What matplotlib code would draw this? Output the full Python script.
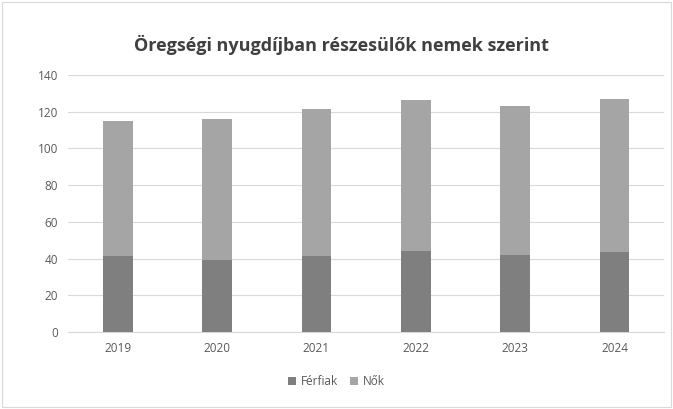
import matplotlib
matplotlib.use("Agg")
import matplotlib.pyplot as plt
import numpy as np

# adatok
evek = ["2019", "2020", "2021", "2022", "2023", "2024"]
ferfiak = [41.5, 39.5, 41.5, 44.0, 42.0, 43.5]
osszes = [115.0, 116.0, 121.5, 126.5, 123.0, 127.0]
nok = [o - f for o, f in zip(osszes, ferfiak)]

plt.rcParams['font.family'] = ['Open Sans', 'DejaVu Sans']

fig = plt.figure(figsize=(6.73, 4.09), dpi=100)
ax = fig.add_axes([0.101, 0.188, 0.886, 0.629])

x = np.arange(len(evek))
w = 0.3
ax.bar(x, ferfiak, w, color="#7f7f7f", label="Férfiak", zorder=3)
ax.bar(x, nok, w, bottom=ferfiak, color="#a5a5a5", label="Nők", zorder=3)

ax.set_ylim(0, 140)
ax.set_yticks(range(0, 141, 20))
ax.set_xlim(-0.5, len(evek) - 0.5)
ax.set_xticks(x)
ax.set_xticklabels(evek)
ax.yaxis.grid(True, color="#d9d9d9", linewidth=0.8, zorder=0)
for s in ax.spines.values():
    s.set_visible(False)
ax.spines['bottom'].set_visible(True)
ax.spines['bottom'].set_color("#d9d9d9")
ax.tick_params(axis='both', length=0, labelsize=8.5, colors="#595959", pad=7)

fig.suptitle("Öregségi nyugdíjban részesülők nemek szerint", x=0.508, y=0.915,
             fontsize=13, fontweight='bold', color="#404040")

fig.legend(loc='lower center', bbox_to_anchor=(0.5, 0.025), ncol=2, frameon=False,
           fontsize=8.5, labelcolor="#595959", handlelength=0.7, handleheight=0.7,
           columnspacing=1.0, handletextpad=0.4)

fig.patches.append(plt.Rectangle((0.003, 0.005), 0.994, 0.99, transform=fig.transFigure,
                                 fill=False, edgecolor="#d9d9d9", linewidth=0.8))

fig.savefig("out.png", dpi=100)
